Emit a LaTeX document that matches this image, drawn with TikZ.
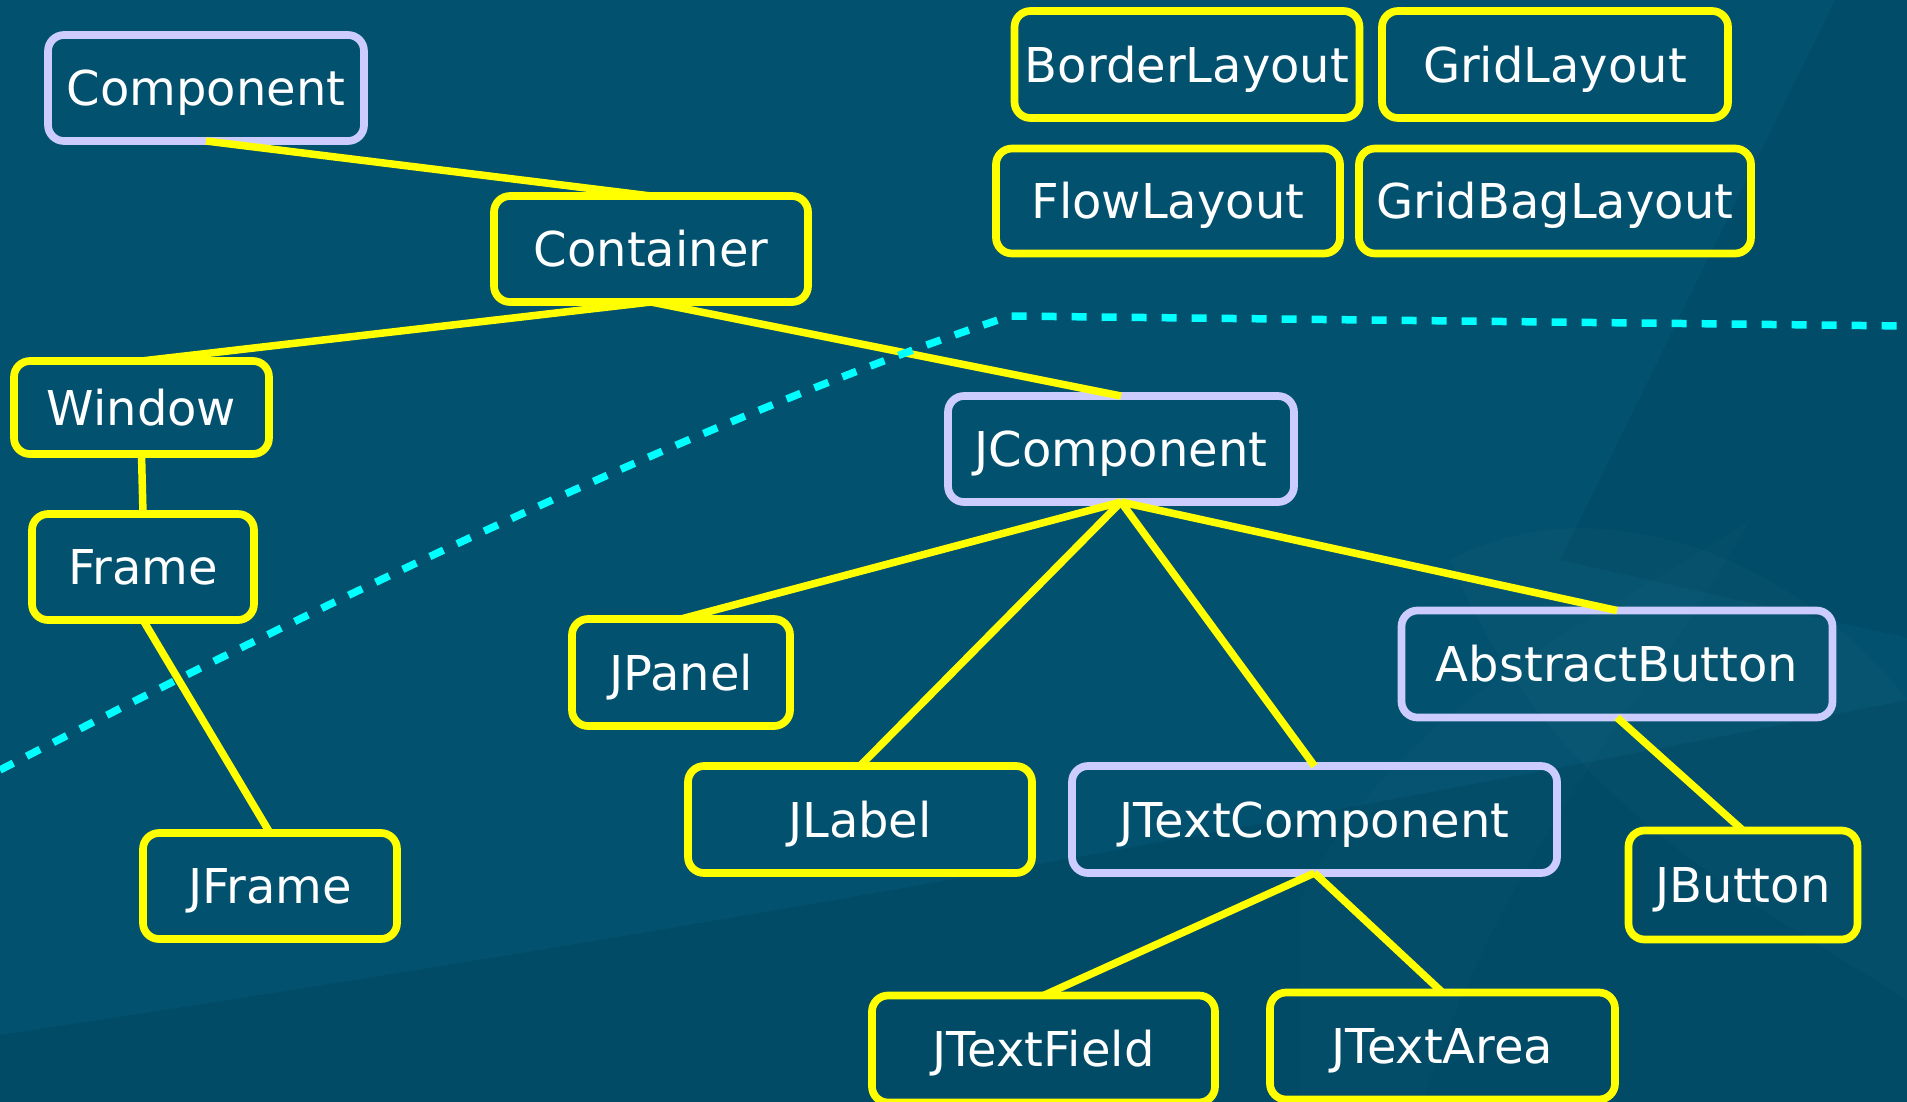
\documentclass[tikz,border=0pt]{standalone}
\usepackage{fontspec}
\setmainfont{DejaVu Sans}
\definecolor{bgblue}{HTML}{02516E}
\definecolor{lav}{HTML}{CCCCFF}
\definecolor{linkyellow}{HTML}{FFFF00}
\definecolor{sep}{HTML}{00FFFF}
\begin{document}
\begin{tikzpicture}[x=1bp,y=-1bp,
  box/.style={draw=linkyellow, line width=7.7bp, rounded corners=16bp,
    text=white, font=\fontsize{48bp}{58bp}\selectfont, inner sep=0pt,
    outer sep=0pt, text height=35bp, text depth=0pt},
  abox/.style={box, draw=lav},
  sz/.style 2 args={minimum width=#1bp, minimum height=#2bp},
  link/.style={draw=linkyellow, line width=7.5bp},
  divider/.style={draw=sep, line width=7.5bp, dash pattern=on 15bp off 15bp}]
\useasboundingbox (0,0) rectangle (1907,1101);

% background with soft swooshes
\fill[bgblue] (-10,-10) rectangle (1917,1111);
\fill[black, opacity=0.07] (-10,1037) -- (0,1035) .. controls (500,960) and (1100,860) .. (1907,700)
  -- (1917,700) -- (1917,1111) -- (-10,1111) -- cycle;
\fill[white, opacity=0.02] (1450,560) .. controls (1600,480) and (1800,560) .. (1907,700)
  -- (1907,1000) .. controls (1750,900) and (1550,800) .. cycle;
\fill[white, opacity=0.015] (1300,900) .. controls (1400,700) and (1600,620) .. (1750,520)
  .. controls (1650,700) and (1500,850) .. (1420,1111) -- (1300,1111) -- cycle;
\fill[black, opacity=0.05] (1840,-10) -- (1917,-10) -- (1917,640) -- (1560,560) -- cycle;

% layout managers
\node[box, sz={345}{107}] (border)  at (1187,64.5) {BorderLayout};
\node[box, sz={346}{107}] (grid)    at (1555,64.5) {GridLayout};
\node[box, sz={344}{105}] (flow)    at (1168,201)  {FlowLayout};
\node[box, sz={392}{105}] (gridbag) at (1555,201)  {GridBagLayout};

% AWT / Swing class hierarchy
\node[abox, sz={316}{106}] (component)  at (206,88)      {Component};
\node[box,  sz={314}{106}] (container)  at (651,249)     {Container};
\node[box,  sz={255}{93}]  (window)     at (141.5,407.5) {Window};
\node[box,  sz={222}{106}] (frame)      at (143,567)     {Frame};
\node[box,  sz={254}{106}] (jframe)     at (270,886)     {JFrame};
\node[abox, sz={346}{106}] (jcomponent) at (1121,449)    {JComponent};
\node[box,  sz={218}{107}] (jpanel)     at (681,672.5)   {JPanel};
\node[box,  sz={344}{107}] (jlabel)     at (860,819.5)   {JLabel};
\node[abox, sz={485}{107}] (jtextcomp)  at (1314.5,819.5) {JTextComponent};
\node[abox, sz={431}{107}] (abstractbtn) at (1617,664)   {AbstractButton};
\node[box,  sz={229}{109}] (jbutton)    at (1743,885)    {JButton};
\node[box,  sz={343}{107}] (jtextfield) at (1043.5,1049) {JTextField};
\node[box,  sz={345}{107}] (jtextarea)  at (1442.5,1046) {JTextArea};

% inheritance links
\draw[link] (component.south) -- (container.north);
\draw[link] (container.south) -- (window.north);
\draw[link] (container.south) -- (jcomponent.north);
\draw[link] (window.south) -- (frame.north);
\draw[link] (frame.south) -- (jframe.north);
\draw[link] (jcomponent.south) -- (jpanel.north);
\draw[link] (jcomponent.south) -- (jlabel.north);
\draw[link] (jcomponent.south) -- (jtextcomp.north);
\draw[link] (jcomponent.south) -- (abstractbtn.north);
\draw[link] (abstractbtn.south) -- (jbutton.north);
\draw[link] (jtextcomp.south) -- (jtextfield.north);
\draw[link] (jtextcomp.south) -- (jtextarea.north);

% AWT / Swing boundary
\coordinate (divL) at (0,770);
\coordinate (divK) at (1010,316);
\coordinate (divR) at (1907,326);
\draw[divider] (divL) .. controls (423,551) and (760,399) .. (divK) -- (divR);
\end{tikzpicture}
\end{document}
